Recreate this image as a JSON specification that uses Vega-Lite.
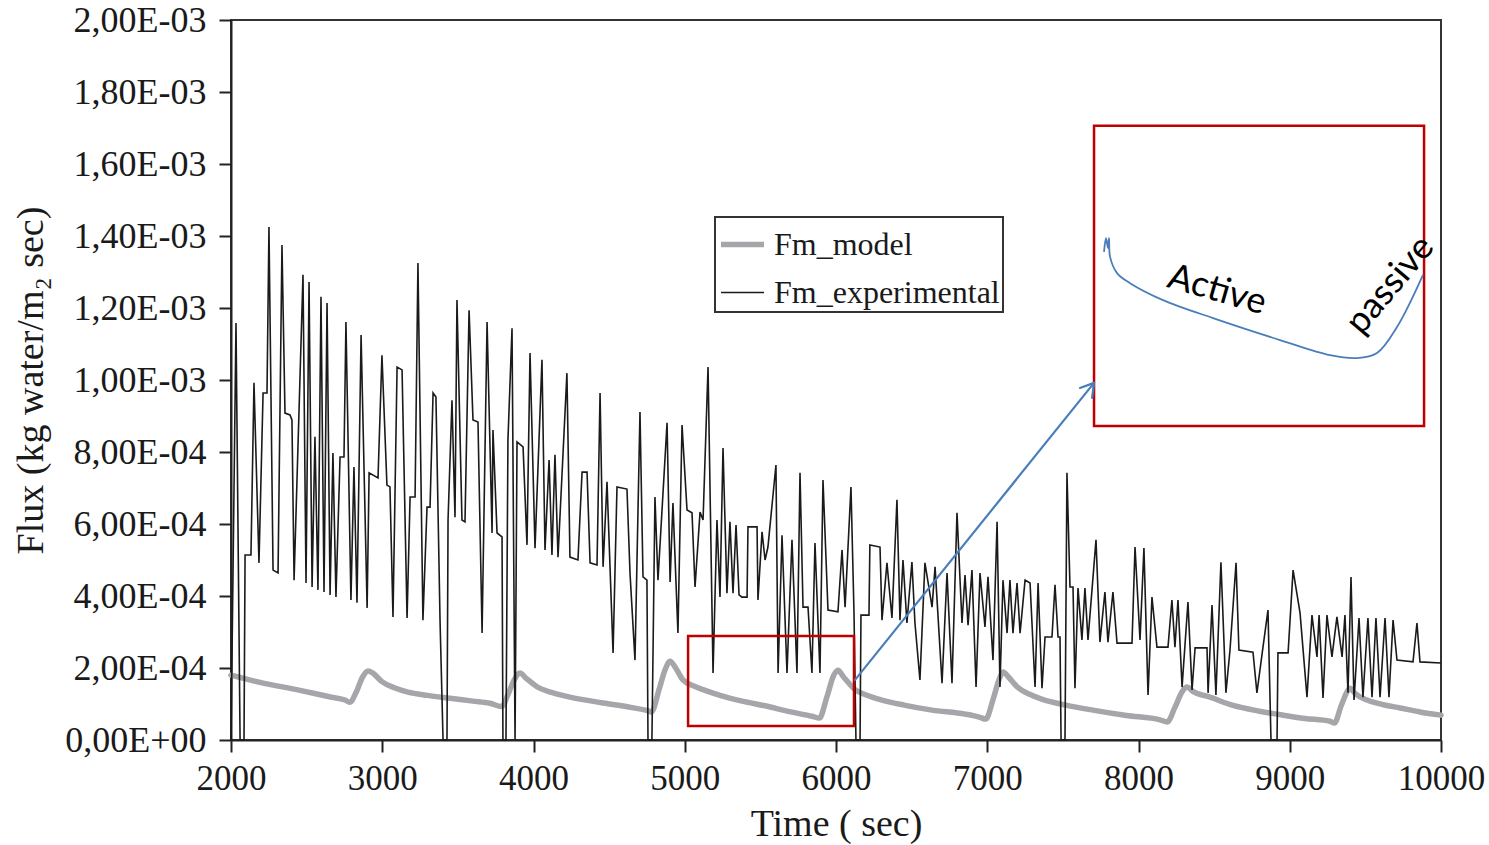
{
  "$schema": "https://vega.github.io/schema/vega-lite/v6.json",
  "width": 1210,
  "height": 720,
  "autosize": {"type": "none"},
  "padding": {"left": 231, "top": 20, "right": 48, "bottom": 105},
  "background": "white",
  "config": {
    "view": {"stroke": "#333333", "strokeWidth": 2},
    "axis": {
      "grid": false,
      "domainColor": "#222222",
      "domainWidth": 2,
      "tickColor": "#222222",
      "tickWidth": 2,
      "tickSize": 12,
      "labelFont": "Liberation Serif",
      "labelFontSize": 34,
      "labelColor": "#1a1a1a",
      "titleFont": "Liberation Serif",
      "titleFontSize": 38,
      "titleFontWeight": "normal",
      "titleColor": "#1a1a1a"
    },
    "axisX": {"tickCount": 8, "format": "d", "labelFontSize": 35, "labelPadding": 9, "titlePadding": 9, "labelFlush": false},
    "axisY": {
      "tickCount": 10,
      "labelFontSize": 36,
      "labelPadding": 13,
      "titlePadding": 14,
      "labelExpr": "['0,00E+00','2,00E-04','4,00E-04','6,00E-04','8,00E-04','1,00E-03','1,20E-03','1,40E-03','1,60E-03','1,80E-03','2,00E-03'][round(datum.value*5000)]"
    },
    "legend": {
      "orient": "none",
      "legendX": 484,
      "legendY": 197,
      "title": null,
      "symbolType": "stroke",
      "symbolSize": 1849,
      "labelFont": "Liberation Serif",
      "labelFontSize": 32,
      "labelColor": "#1a1a1a",
      "labelLimit": 500,
      "strokeColor": "#333333",
      "strokeWidth": 2,
      "padding": 3,
      "rowPadding": 9,
      "labelOffset": 7
    }
  },
  "datasets": {
    "model": [
      {"t":2000,"f":1.80e-4},{"t":2192,"f":1.60e-4},{"t":2456,"f":1.38e-4},{"t":2650,"f":1.20e-4},{"t":2754,"f":1.11e-4},{"t":2785,"f":1.05e-4},{"t":2830,"f":1.35e-4},{"t":2870,"f":1.75e-4},{"t":2906,"f":1.92e-4},{"t":2940,"f":1.85e-4},{"t":2998,"f":1.62e-4},{"t":3080,"f":1.45e-4},{"t":3170,"f":1.33e-4},{"t":3300,"f":1.24e-4},{"t":3448,"f":1.16e-4},{"t":3600,"f":1.08e-4},{"t":3712,"f":1.02e-4},{"t":3790,"f":0.93e-4},{"t":3830,"f":1.25e-4},{"t":3870,"f":1.65e-4},{"t":3911,"f":1.86e-4},{"t":3950,"f":1.72e-4},{"t":4023,"f":1.48e-4},{"t":4120,"f":1.32e-4},{"t":4241,"f":1.19e-4},{"t":4460,"f":1.03e-4},{"t":4650,"f":0.90e-4},{"t":4750,"f":0.82e-4},{"t":4780,"f":0.78e-4},{"t":4830,"f":1.40e-4},{"t":4870,"f":1.95e-4},{"t":4903,"f":2.19e-4},{"t":4940,"f":2.00e-4},{"t":4988,"f":1.67e-4},{"t":5060,"f":1.50e-4},{"t":5121,"f":1.40e-4},{"t":5233,"f":1.24e-4},{"t":5380,"f":1.08e-4},{"t":5531,"f":0.95e-4},{"t":5700,"f":0.78e-4},{"t":5841,"f":0.66e-4},{"t":5890,"f":0.61e-4},{"t":5940,"f":1.20e-4},{"t":5985,"f":1.80e-4},{"t":6013,"f":1.94e-4},{"t":6050,"f":1.75e-4},{"t":6126,"f":1.40e-4},{"t":6200,"f":1.25e-4},{"t":6304,"f":1.11e-4},{"t":6450,"f":0.97e-4},{"t":6635,"f":0.83e-4},{"t":6853,"f":0.72e-4},{"t":6952,"f":0.63e-4},{"t":6990,"f":0.58e-4},{"t":7040,"f":1.15e-4},{"t":7080,"f":1.70e-4},{"t":7104,"f":1.89e-4},{"t":7140,"f":1.75e-4},{"t":7197,"f":1.48e-4},{"t":7280,"f":1.27e-4},{"t":7369,"f":1.12e-4},{"t":7520,"f":0.97e-4},{"t":7699,"f":0.83e-4},{"t":7920,"f":0.68e-4},{"t":8142,"f":0.56e-4},{"t":8190,"f":0.50e-4},{"t":8240,"f":0.90e-4},{"t":8290,"f":1.35e-4},{"t":8321,"f":1.47e-4},{"t":8360,"f":1.35e-4},{"t":8473,"f":1.19e-4},{"t":8625,"f":0.96e-4},{"t":8800,"f":0.80e-4},{"t":8956,"f":0.69e-4},{"t":9100,"f":0.60e-4},{"t":9266,"f":0.52e-4},{"t":9295,"f":0.47e-4},{"t":9340,"f":0.95e-4},{"t":9380,"f":1.35e-4},{"t":9398,"f":1.44e-4},{"t":9430,"f":1.30e-4},{"t":9511,"f":1.11e-4},{"t":9620,"f":0.98e-4},{"t":9729,"f":0.89e-4},{"t":9860,"f":0.78e-4},{"t":10000,"f":0.69e-4}
    ],
    "exp": [
      {"t":2000,"f":0},{"t":2033,"f":11.58e-4},{"t":2060,"f":0},{"t":2086,"f":0},{"t":2093,"f":5.14e-4},{"t":2132,"f":5.14e-4},{"t":2152,"f":9.92e-4},{"t":2185,"f":4.92e-4},{"t":2212,"f":9.64e-4},{"t":2238,"f":9.64e-4},{"t":2251,"f":14.25e-4},{"t":2278,"f":4.72e-4},{"t":2311,"f":4.64e-4},{"t":2337,"f":13.75e-4},{"t":2357,"f":9.08e-4},{"t":2390,"f":9.03e-4},{"t":2403,"f":8.89e-4},{"t":2417,"f":4.44e-4},{"t":2476,"f":12.92e-4},{"t":2496,"f":4.36e-4},{"t":2516,"f":12.72e-4},{"t":2536,"f":4.25e-4},{"t":2555,"f":8.42e-4},{"t":2575,"f":4.17e-4},{"t":2595,"f":12.31e-4},{"t":2615,"f":4.11e-4},{"t":2635,"f":12.14e-4},{"t":2655,"f":4.03e-4},{"t":2674,"f":7.97e-4},{"t":2694,"f":3.97e-4},{"t":2721,"f":7.86e-4},{"t":2747,"f":7.86e-4},{"t":2760,"f":11.61e-4},{"t":2793,"f":3.89e-4},{"t":2813,"f":7.58e-4},{"t":2833,"f":3.81e-4},{"t":2860,"f":11.25e-4},{"t":2900,"f":3.67e-4},{"t":2913,"f":7.42e-4},{"t":2972,"f":7.28e-4},{"t":2998,"f":10.69e-4},{"t":3031,"f":7.08e-4},{"t":3051,"f":7.03e-4},{"t":3071,"f":3.42e-4},{"t":3098,"f":10.36e-4},{"t":3131,"f":10.28e-4},{"t":3164,"f":3.39e-4},{"t":3184,"f":6.75e-4},{"t":3217,"f":6.75e-4},{"t":3236,"f":13.25e-4},{"t":3269,"f":3.33e-4},{"t":3296,"f":6.47e-4},{"t":3316,"f":6.47e-4},{"t":3336,"f":9.64e-4},{"t":3355,"f":9.53e-4},{"t":3382,"f":3.33e-4},{"t":3402,"f":0},{"t":3428,"f":0},{"t":3435,"f":6.11e-4},{"t":3461,"f":9.44e-4},{"t":3481,"f":6.19e-4},{"t":3494,"f":12.22e-4},{"t":3527,"f":6.11e-4},{"t":3547,"f":6.06e-4},{"t":3574,"f":11.94e-4},{"t":3600,"f":8.89e-4},{"t":3633,"f":8.83e-4},{"t":3660,"f":2.97e-4},{"t":3693,"f":11.61e-4},{"t":3726,"f":5.75e-4},{"t":3732,"f":8.61e-4},{"t":3759,"f":5.75e-4},{"t":3792,"f":5.64e-4},{"t":3798,"f":0},{"t":3818,"f":0},{"t":3831,"f":8.33e-4},{"t":3858,"f":11.44e-4},{"t":3878,"f":0},{"t":3891,"f":8.28e-4},{"t":3931,"f":8.14e-4},{"t":3957,"f":5.42e-4},{"t":3977,"f":10.75e-4},{"t":4010,"f":5.33e-4},{"t":4056,"f":10.56e-4},{"t":4076,"f":5.28e-4},{"t":4103,"f":7.78e-4},{"t":4122,"f":5.14e-4},{"t":4142,"f":7.92e-4},{"t":4162,"f":5.08e-4},{"t":4221,"f":10.19e-4},{"t":4241,"f":5.08e-4},{"t":4294,"f":5.0e-4},{"t":4321,"f":7.44e-4},{"t":4354,"f":7.44e-4},{"t":4374,"f":4.92e-4},{"t":4420,"f":4.86e-4},{"t":4440,"f":9.64e-4},{"t":4460,"f":4.81e-4},{"t":4486,"f":7.17e-4},{"t":4526,"f":2.42e-4},{"t":4552,"f":7.03e-4},{"t":4618,"f":6.97e-4},{"t":4638,"f":4.64e-4},{"t":4671,"f":2.22e-4},{"t":4704,"f":9.11e-4},{"t":4724,"f":4.53e-4},{"t":4750,"f":4.44e-4},{"t":4757,"f":0},{"t":4783,"f":0},{"t":4803,"f":6.75e-4},{"t":4823,"f":4.44e-4},{"t":4883,"f":8.81e-4},{"t":4903,"f":4.39e-4},{"t":4922,"f":6.58e-4},{"t":4955,"f":2.97e-4},{"t":4982,"f":8.75e-4},{"t":5015,"f":6.39e-4},{"t":5048,"f":6.31e-4},{"t":5068,"f":4.25e-4},{"t":5101,"f":6.33e-4},{"t":5121,"f":6.11e-4},{"t":5154,"f":10.36e-4},{"t":5187,"f":1.86e-4},{"t":5213,"f":6.11e-4},{"t":5233,"f":3.97e-4},{"t":5253,"f":8.11e-4},{"t":5279,"f":4.08e-4},{"t":5299,"f":6.06e-4},{"t":5319,"f":4.08e-4},{"t":5339,"f":5.97e-4},{"t":5359,"f":4.03e-4},{"t":5378,"f":3.97e-4},{"t":5412,"f":3.97e-4},{"t":5418,"f":5.92e-4},{"t":5478,"f":5.92e-4},{"t":5484,"f":3.89e-4},{"t":5511,"f":5.78e-4},{"t":5531,"f":5.0e-4},{"t":5550,"f":5.36e-4},{"t":5603,"f":7.64e-4},{"t":5617,"f":1.86e-4},{"t":5643,"f":5.69e-4},{"t":5676,"f":1.86e-4},{"t":5709,"f":5.56e-4},{"t":5742,"f":1.86e-4},{"t":5762,"f":7.42e-4},{"t":5782,"f":3.69e-4},{"t":5815,"f":3.69e-4},{"t":5841,"f":1.86e-4},{"t":5861,"f":5.47e-4},{"t":5894,"f":1.86e-4},{"t":5914,"f":7.22e-4},{"t":5947,"f":3.61e-4},{"t":6013,"f":3.56e-4},{"t":6040,"f":5.28e-4},{"t":6060,"f":3.69e-4},{"t":6099,"f":7.03e-4},{"t":6119,"f":3.53e-4},{"t":6132,"f":0},{"t":6159,"f":0},{"t":6165,"f":3.47e-4},{"t":6218,"f":3.47e-4},{"t":6224,"f":5.42e-4},{"t":6291,"f":5.36e-4},{"t":6304,"f":3.33e-4},{"t":6337,"f":4.92e-4},{"t":6370,"f":3.39e-4},{"t":6403,"f":6.67e-4},{"t":6423,"f":3.33e-4},{"t":6443,"f":5.0e-4},{"t":6469,"f":3.25e-4},{"t":6502,"f":4.94e-4},{"t":6522,"f":3.25e-4},{"t":6555,"f":1.67e-4},{"t":6588,"f":4.92e-4},{"t":6635,"f":3.69e-4},{"t":6655,"f":4.81e-4},{"t":6701,"f":1.58e-4},{"t":6734,"f":4.64e-4},{"t":6767,"f":1.58e-4},{"t":6800,"f":6.31e-4},{"t":6833,"f":3.25e-4},{"t":6853,"f":4.58e-4},{"t":6873,"f":3.19e-4},{"t":6899,"f":4.72e-4},{"t":6926,"f":1.47e-4},{"t":6952,"f":4.64e-4},{"t":6985,"f":3.14e-4},{"t":7005,"f":4.53e-4},{"t":7038,"f":2.22e-4},{"t":7065,"f":6.06e-4},{"t":7084,"f":1.47e-4},{"t":7104,"f":4.44e-4},{"t":7131,"f":2.97e-4},{"t":7150,"f":4.44e-4},{"t":7170,"f":2.97e-4},{"t":7197,"f":4.36e-4},{"t":7217,"f":2.97e-4},{"t":7250,"f":4.44e-4},{"t":7283,"f":4.36e-4},{"t":7316,"f":1.47e-4},{"t":7336,"f":4.36e-4},{"t":7362,"f":1.44e-4},{"t":7382,"f":2.86e-4},{"t":7428,"f":2.86e-4},{"t":7448,"f":4.31e-4},{"t":7468,"f":2.86e-4},{"t":7481,"f":2.86e-4},{"t":7488,"f":0},{"t":7514,"f":0},{"t":7527,"f":7.42e-4},{"t":7547,"f":4.25e-4},{"t":7567,"f":4.25e-4},{"t":7580,"f":1.44e-4},{"t":7600,"f":4.22e-4},{"t":7626,"f":2.78e-4},{"t":7646,"f":4.22e-4},{"t":7666,"f":2.78e-4},{"t":7719,"f":5.56e-4},{"t":7745,"f":2.72e-4},{"t":7778,"f":4.11e-4},{"t":7798,"f":2.72e-4},{"t":7831,"f":4.11e-4},{"t":7858,"f":2.69e-4},{"t":7957,"f":2.69e-4},{"t":7977,"f":5.36e-4},{"t":8010,"f":2.78e-4},{"t":8036,"f":5.33e-4},{"t":8063,"f":1.25e-4},{"t":8089,"f":3.97e-4},{"t":8122,"f":2.58e-4},{"t":8195,"f":2.58e-4},{"t":8221,"f":3.89e-4},{"t":8241,"f":2.58e-4},{"t":8261,"f":3.89e-4},{"t":8288,"f":1.47e-4},{"t":8327,"f":3.83e-4},{"t":8354,"f":1.39e-4},{"t":8374,"f":2.56e-4},{"t":8453,"f":2.56e-4},{"t":8460,"f":1.31e-4},{"t":8486,"f":3.75e-4},{"t":8512,"f":1.25e-4},{"t":8545,"f":4.94e-4},{"t":8578,"f":1.31e-4},{"t":8605,"f":2.5e-4},{"t":8645,"f":4.92e-4},{"t":8664,"f":2.5e-4},{"t":8757,"f":2.44e-4},{"t":8783,"f":1.31e-4},{"t":8816,"f":2.36e-4},{"t":8856,"f":3.61e-4},{"t":8876,"f":0},{"t":8916,"f":0},{"t":8922,"f":2.42e-4},{"t":8989,"f":2.42e-4},{"t":9022,"f":4.72e-4},{"t":9068,"f":3.53e-4},{"t":9114,"f":1.19e-4},{"t":9147,"f":3.47e-4},{"t":9180,"f":2.31e-4},{"t":9194,"f":3.47e-4},{"t":9220,"f":1.17e-4},{"t":9246,"f":3.47e-4},{"t":9279,"f":2.31e-4},{"t":9312,"f":3.42e-4},{"t":9346,"f":2.31e-4},{"t":9365,"f":3.47e-4},{"t":9385,"f":1.31e-4},{"t":9405,"f":4.53e-4},{"t":9425,"f":1.11e-4},{"t":9458,"f":3.39e-4},{"t":9484,"f":1.19e-4},{"t":9517,"f":3.39e-4},{"t":9544,"f":1.19e-4},{"t":9570,"f":3.39e-4},{"t":9597,"f":1.19e-4},{"t":9630,"f":3.39e-4},{"t":9656,"f":1.19e-4},{"t":9683,"f":3.33e-4},{"t":9709,"f":2.22e-4},{"t":9815,"f":2.17e-4},{"t":9841,"f":3.25e-4},{"t":9861,"f":2.17e-4},{"t":10000,"f":2.14e-4}
    ],
    "boxes": [
      {"x1": 5022, "x2": 6119, "y1": 0.39e-4, "y2": 2.89e-4},
      {"x1": 7706, "x2": 9888, "y1": 8.72e-4, "y2": 17.06e-4}
    ],
    "arrow": [
      {"x1": 6126, "y1": 1.67e-4, "x2": 7706, "y2": 9.92e-4},
      {"x1": 7706, "y1": 9.92e-4, "x2": 7613, "y2": 9.78e-4},
      {"x1": 7706, "y1": 9.92e-4, "x2": 7693, "y2": 9.50e-4}
    ],
    "curve": [
      {"o":1,"t":7772,"f":13.56e-4},{"o":2,"t":7785,"f":13.94e-4},{"o":3,"t":7798,"f":13.67e-4},{"o":4,"t":7805,"f":13.94e-4},{"o":5,"t":7812,"f":13.42e-4},{"o":6,"t":7858,"f":12.97e-4},{"o":7,"t":7944,"f":12.69e-4},{"o":8,"t":8162,"f":12.22e-4},{"o":9,"t":8493,"f":11.72e-4},{"o":10,"t":8936,"f":11.11e-4},{"o":11,"t":9266,"f":10.69e-4},{"o":12,"t":9445,"f":10.61e-4},{"o":13,"t":9577,"f":10.75e-4},{"o":14,"t":9709,"f":11.47e-4},{"o":15,"t":9881,"f":12.92e-4}
    ],
    "active": [{"t": 8519, "f": 12.5e-4, "label": "Active"}],
    "passive": [{"t": 9663, "f": 12.64e-4, "label": "passive"}]
  },
  "layer": [
    {
      "data": {"name": "model"},
      "mark": {"type": "line", "interpolate": "monotone", "strokeCap": "round", "strokeJoin": "round"},
      "encoding": {
        "x": {"field": "t", "type": "quantitative", "scale": {"domain": [2000, 10000], "nice": false}, "title": "Time ( sec)"},
        "y": {"field": "f", "type": "quantitative", "scale": {"domain": [0, 0.002], "nice": false}, "title": "Flux (kg water/m₂ sec)"},
        "color": {"datum": "Fm_model", "type": "ordinal", "scale": {"domain": ["Fm_model", "Fm_experimental"], "range": ["#a6a6aa", "#1a1a1a"]}},
        "strokeWidth": {"datum": "Fm_model", "type": "ordinal", "scale": {"domain": ["Fm_model", "Fm_experimental"], "range": [5.5, 1.6]}}
      }
    },
    {
      "data": {"name": "exp"},
      "mark": {"type": "line", "interpolate": "linear"},
      "encoding": {
        "x": {"field": "t", "type": "quantitative", "scale": {"domain": [2000, 10000], "nice": false}, "title": "Time ( sec)"},
        "y": {"field": "f", "type": "quantitative", "scale": {"domain": [0, 0.002], "nice": false}, "title": "Flux (kg water/m₂ sec)"},
        "color": {"datum": "Fm_experimental", "type": "ordinal"},
        "strokeWidth": {"datum": "Fm_experimental", "type": "ordinal"}
      }
    },
    {
      "data": {"name": "boxes"},
      "mark": {"type": "rect", "fill": null, "fillOpacity": 0, "stroke": "#c00000", "strokeWidth": 2.5},
      "encoding": {
        "x": {"field": "x1", "type": "quantitative", "title": "Time ( sec)"},
        "x2": {"field": "x2"},
        "y": {"field": "y1", "type": "quantitative", "title": "Flux (kg water/m₂ sec)"},
        "y2": {"field": "y2"}
      }
    },
    {
      "data": {"name": "arrow"},
      "mark": {"type": "rule", "color": "#4a7ebb", "strokeWidth": 2.2, "strokeCap": "round"},
      "encoding": {
        "x": {"field": "x1", "type": "quantitative", "title": "Time ( sec)"},
        "x2": {"field": "x2"},
        "y": {"field": "y1", "type": "quantitative", "title": "Flux (kg water/m₂ sec)"},
        "y2": {"field": "y2"}
      }
    },
    {
      "data": {"name": "curve"},
      "mark": {"type": "line", "interpolate": "catmull-rom", "color": "#4a7ebb", "strokeWidth": 1.8},
      "encoding": {
        "x": {"field": "t", "type": "quantitative", "title": "Time ( sec)"},
        "y": {"field": "f", "type": "quantitative", "title": "Flux (kg water/m₂ sec)"},
        "order": {"field": "o", "type": "quantitative"}
      }
    },
    {
      "data": {"name": "active"},
      "mark": {"type": "text", "font": "Lato", "fontSize": 36, "angle": 16, "color": "#000000", "align": "center", "baseline": "middle"},
      "encoding": {
        "x": {"field": "t", "type": "quantitative", "title": "Time ( sec)"},
        "y": {"field": "f", "type": "quantitative", "title": "Flux (kg water/m₂ sec)"},
        "text": {"field": "label"}
      }
    },
    {
      "data": {"name": "passive"},
      "mark": {"type": "text", "font": "Lato", "fontSize": 36, "angle": -50, "color": "#000000", "align": "center", "baseline": "middle"},
      "encoding": {
        "x": {"field": "t", "type": "quantitative", "title": "Time ( sec)"},
        "y": {"field": "f", "type": "quantitative", "title": "Flux (kg water/m₂ sec)"},
        "text": {"field": "label"}
      }
    }
  ]
}
